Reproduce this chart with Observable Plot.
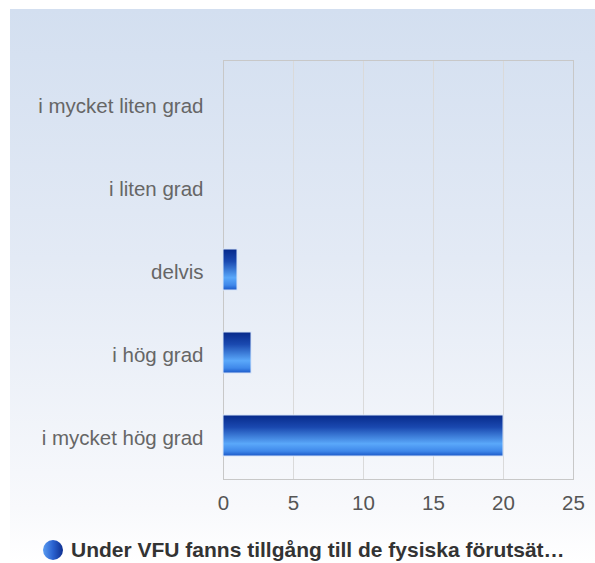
<!DOCTYPE html>
<html>
<head>
<meta charset="utf-8">
<script src="https://cdn.jsdelivr.net/npm/d3@7"></script>
<script src="https://cdn.jsdelivr.net/npm/@observablehq/plot@0.6"></script>
<style>
  html, body { margin: 0; padding: 0; background: #ffffff; }
  #wrap { position: relative; width: 595px; height: 563px; overflow: hidden;
          font-family: Helvetica, Arial, "Liberation Sans", sans-serif; }
  #panel { position: absolute; left: 10px; top: 9px; width: 585px; height: 554px;
           background: linear-gradient(to bottom, #d3dff0 0%, #e3eaf5 45%, #f8f9fc 90%, #ffffff 100%); }
  #chart { position: absolute; left: 0; top: 0; }
  #legend { position: absolute; left: 43px; top: 539px; height: 22px; display: flex; align-items: center;
            font-weight: bold; font-size: 21px; color: #333; white-space: nowrap; }
  #legend .dot { width: 20px; height: 20px; border-radius: 50%; margin-right: 8px; flex: none;
                 background: linear-gradient(to right, #5a9cf0 0%, #2a62d0 50%, #0e2f90 100%); }
</style>
</head>
<body>
<div id="wrap">
  <div id="panel"></div>
  <div id="chart"></div>
  <div id="legend"><span class="dot"></span><span id="legendText"></span></div>
</div>
<script>
const categories = ["i mycket liten grad", "i liten grad", "delvis", "i hög grad", "i mycket hög grad"];
const counts = [0, 0, 1, 2, 20];
const xTicks = [0, 5, 10, 15, 20, 25];
const seriesName = "Under VFU fanns tillgång till de fysiska förutsät…";

const data = categories.map((c, i) => ({category: c, count: counts[i]}));

const plot = Plot.plot({
  width: 595,
  height: 525,
  marginTop: 60,
  marginBottom: 46,
  marginLeft: 223,
  marginRight: 22,
  style: {background: "transparent", fontFamily: "Helvetica, Arial, 'Liberation Sans', sans-serif", fontSize: "20px"},
  x: {domain: [0, 25], label: null},
  y: {domain: categories, paddingInner: 0.51, paddingOuter: 0.255, label: null},
  marks: [
    Plot.gridX({ticks: xTicks.filter(t => t > 0 && t < 25), stroke: "#dadada", strokeOpacity: 1}),
    Plot.frame({stroke: "#c8c8c8"}),
    Plot.barX(data, {
      filter: d => d.count > 0,
      x: "count", y: "category",
      fill: "url(#barGrad)", stroke: "#d6e3f7", strokeWidth: 1
    }),
    Plot.axisX({ticks: xTicks, tickSize: 0, tickPadding: 16, fill: "#555", fontSize: 20.5, label: null}),
    Plot.axisY({tickSize: 0, tickPadding: 20, fill: "#666", fontSize: 20.5, dy: 2, label: null})
  ]
});

const ns = "http://www.w3.org/2000/svg";
const defs = document.createElementNS(ns, "defs");
const grad = document.createElementNS(ns, "linearGradient");
grad.setAttribute("id", "barGrad");
grad.setAttribute("x1", "0"); grad.setAttribute("y1", "0");
grad.setAttribute("x2", "0"); grad.setAttribute("y2", "1");
[[0, "#06298a"], [0.3, "#1a49b0"], [0.7, "#5aa8fa"], [0.88, "#3f88ea"], [1, "#1a58c8"]].forEach(([o, c]) => {
  const s = document.createElementNS(ns, "stop");
  s.setAttribute("offset", o);
  s.setAttribute("stop-color", c);
  grad.appendChild(s);
});
defs.appendChild(grad);
plot.insertBefore(defs, plot.firstChild);

document.getElementById("chart").appendChild(plot);
document.getElementById("legendText").textContent = seriesName;
</script>
</body>
</html>
